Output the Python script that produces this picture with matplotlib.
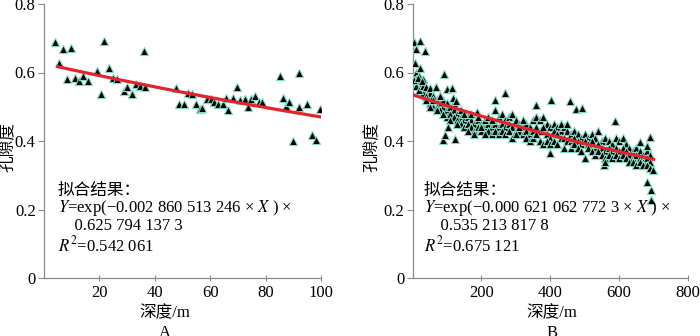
import numpy as np
import matplotlib
matplotlib.use("Agg")
import matplotlib.pyplot as plt

plt.rcParams['font.family'] = ['Liberation Serif', 'Noto Sans CJK SC']
plt.rcParams['mathtext.fontset'] = 'stix'
plt.rcParams['font.size'] = 11

# ---- panel A: depth (m) / porosity ----
a_depth = [3.9, 5.3, 6.9, 9.6, 8.3, 11.1, 12.7, 14.1, 15.9, 19.2, 20.5, 21.7, 23.5,
           24.9, 26.4, 28.8, 30.1, 31.6, 33.1, 34.6, 36.0, 36.6, 47.5, 48.8, 50.6,
           52.0, 53.5, 54.8, 56.3, 56.9, 58.7, 60.2, 61.3, 62.9, 64.5, 65.7, 66.5,
           68.3, 69.5, 70.7, 72.5, 73.7, 74.9, 76.1, 77.7, 78.8, 85.2, 86.4, 87.3,
           88.6, 90.0, 91.9, 92.2, 95.1, 96.6, 98.2, 99.6]
a_poro = [0.690, 0.627, 0.668, 0.671, 0.581, 0.583, 0.574, 0.590, 0.576, 0.605, 0.538,
          0.693, 0.614, 0.583, 0.581, 0.547, 0.557, 0.537, 0.567, 0.561, 0.664, 0.559,
          0.554, 0.508, 0.507, 0.540, 0.538, 0.507, 0.493, 0.496, 0.522, 0.522, 0.515,
          0.507, 0.507, 0.525, 0.491, 0.525, 0.559, 0.520, 0.523, 0.499, 0.523, 0.532,
          0.515, 0.513, 0.590, 0.527, 0.503, 0.515, 0.399, 0.598, 0.498, 0.507, 0.418,
          0.403, 0.494]
a_k, a_c = -0.002860513246, 0.6257941373
a_fit_range = [5, 100]

# ---- panel B: dense band (three values per depth) + scattered points ----
b_band_depth = list(range(10, 700, 10))
b_band_hi = [0.60, 0.59, 0.58, 0.55, 0.54, 0.53, 0.52, 0.51, 0.50, 0.49, 0.50, 0.49,
             0.48, 0.47, 0.46, 0.47, 0.46, 0.45, 0.46, 0.45, 0.44, 0.45, 0.44, 0.49,
             0.47, 0.48, 0.46, 0.47, 0.48, 0.46, 0.45, 0.44, 0.45, 0.44, 0.46, 0.47,
             0.46, 0.47, 0.45, 0.44, 0.45, 0.44, 0.43, 0.44, 0.43, 0.42, 0.43, 0.42,
             0.41, 0.42, 0.41, 0.42, 0.41, 0.43, 0.40, 0.41, 0.40, 0.39, 0.41, 0.40,
             0.41, 0.39, 0.38, 0.37, 0.38, 0.37, 0.36, 0.37, 0.36]
b_band_mid = [0.58, 0.57, 0.54, 0.53, 0.51, 0.50, 0.50, 0.49, 0.52, 0.47, 0.48, 0.47,
              0.46, 0.45, 0.44, 0.45, 0.44, 0.43, 0.44, 0.43, 0.46, 0.43, 0.42, 0.45,
              0.44, 0.45, 0.44, 0.45, 0.44, 0.43, 0.43, 0.42, 0.43, 0.42, 0.43, 0.44,
              0.43, 0.44, 0.42, 0.41, 0.43, 0.42, 0.41, 0.41, 0.40, 0.40, 0.41, 0.40,
              0.39, 0.40, 0.39, 0.40, 0.38, 0.39, 0.38, 0.37, 0.38, 0.37, 0.38, 0.37,
              0.38, 0.37, 0.36, 0.35, 0.36, 0.35, 0.34, 0.35, 0.34]
b_band_lo = [0.56, 0.55, 0.56, 0.52, 0.50, 0.52, 0.49, 0.53, 0.48, 0.51, 0.46, 0.51,
             0.45, 0.49, 0.48, 0.43, 0.48, 0.42, 0.47, 0.44, 0.42, 0.47, 0.46, 0.43,
             0.42, 0.43, 0.42, 0.43, 0.41, 0.42, 0.44, 0.46, 0.41, 0.40, 0.41, 0.42,
             0.40, 0.39, 0.40, 0.39, 0.40, 0.39, 0.45, 0.38, 0.45, 0.38, 0.39, 0.38,
             0.37, 0.35, 0.38, 0.37, 0.36, 0.37, 0.36, 0.35, 0.36, 0.35, 0.36, 0.35,
             0.36, 0.35, 0.34, 0.34, 0.33, 0.34, 0.33, 0.33, 0.32]
b_extra_depth = [3, 22, 10, 37, 6, 22, 3, 17, 27, 40, 51, 69, 92, 100, 114, 119, 127,
                 88, 95, 102, 124, 80, 188, 241, 269, 360, 402, 457, 474, 491, 399,
                 589, 689, 682, 682, 694, 694, 697, 556, 559, 660]
b_extra_poro = [0.690, 0.693, 0.669, 0.664, 0.627, 0.614, 0.578, 0.583, 0.574, 0.557,
                0.554, 0.557, 0.596, 0.552, 0.554, 0.525, 0.518, 0.403, 0.418, 0.442,
                0.405, 0.530, 0.486, 0.520, 0.539, 0.505, 0.520, 0.517, 0.493, 0.496,
                0.365, 0.457, 0.413, 0.384, 0.279, 0.258, 0.228, 0.316, 0.330, 0.340,
                0.396]
b_k, b_c = -0.0006210627723, 0.5352138178
b_fit_range = [0, 700]

a_text = ["拟合结果：",
          r"$Y$=exp(−0.002 860 513 246 × $X$ ) ×",
          "    0.625 794 137 3",
          r"$R^2$=0.542 061"]
b_text = ["拟合结果：",
          r"$Y$=exp(−0.000 621 062 772 3 × $X$ ) ×",
          "    0.535 213 817 8",
          r"$R^2$=0.675 121"]

fig = plt.figure(figsize=(7, 3.36), dpi=100)
axA = fig.add_axes([44 / 700, 1 - 278 / 336, 277 / 700, 274 / 336])
axB = fig.add_axes([412.5 / 700, 1 - 278 / 336, 275.5 / 700, 274 / 336])

mk = dict(marker='^', s=34, c='black', edgecolors='#86d9c3', linewidths=0.8, zorder=3)


def style(ax, xmax, xticks):
    ax.set_xlim(0, xmax)
    ax.set_ylim(0, 0.8)
    ax.set_xticks(xticks)
    ax.set_yticks([0, 0.2, 0.4, 0.6, 0.8])
    ax.set_yticklabels(['0', '0.2', '0.4', '0.6', '0.8'])
    for s in ['top', 'right']:
        ax.spines[s].set_visible(False)
    for s in ['left', 'bottom']:
        ax.spines[s].set_color('#8a8a8a')
        ax.spines[s].set_linewidth(0.9)
    ax.tick_params(axis='y', direction='out', length=4, color='#8a8a8a', labelsize=12, pad=2)
    ax.tick_params(axis='x', direction='inout', length=4, color='#8a8a8a', labelsize=12, pad=3)
    ax.patch.set_alpha(0)


# panel A
axA.scatter(a_depth, a_poro, **mk)
xa = np.linspace(a_fit_range[0], a_fit_range[1], 50)
axA.plot(xa, a_c * np.exp(a_k * xa), color='#e3242b', lw=2.3, zorder=4)
style(axA, 100, [20, 40, 60, 80, 100])

# panel B
bx = b_band_depth * 3
by = b_band_hi + b_band_mid + b_band_lo
axB.scatter(bx, by, **mk)
axB.scatter(b_extra_depth, b_extra_poro, **mk)
xb = np.linspace(b_fit_range[0], b_fit_range[1], 50)
axB.plot(xb, b_c * np.exp(b_k * xb), color='#e3242b', lw=2.3, zorder=4)
style(axB, 800, [200, 400, 600, 800])

# annotations
for x0, lines in [(58, a_text), (424, b_text)]:
    for i, (t, y) in enumerate(zip(lines, [191, 208, 226, 245])):
        fig.text(x0 / 700, 1 - y / 336, t, fontsize=12, va='center', ha='left')

for cx, lab in [(165, 'A'), (552, 'B')]:
    fig.text(cx / 700, 1 - 313 / 336, '深度/m', fontsize=12, ha='center', va='center')
    fig.text(cx / 700, 1 - 333 / 336, lab, fontsize=12, ha='center', va='center')
for cx in [8, 372]:
    fig.text(cx / 700, 1 - 147 / 336, '孔隙度', fontsize=12, rotation=90,
             ha='center', va='center')

fig.savefig('out.png', dpi=100)
